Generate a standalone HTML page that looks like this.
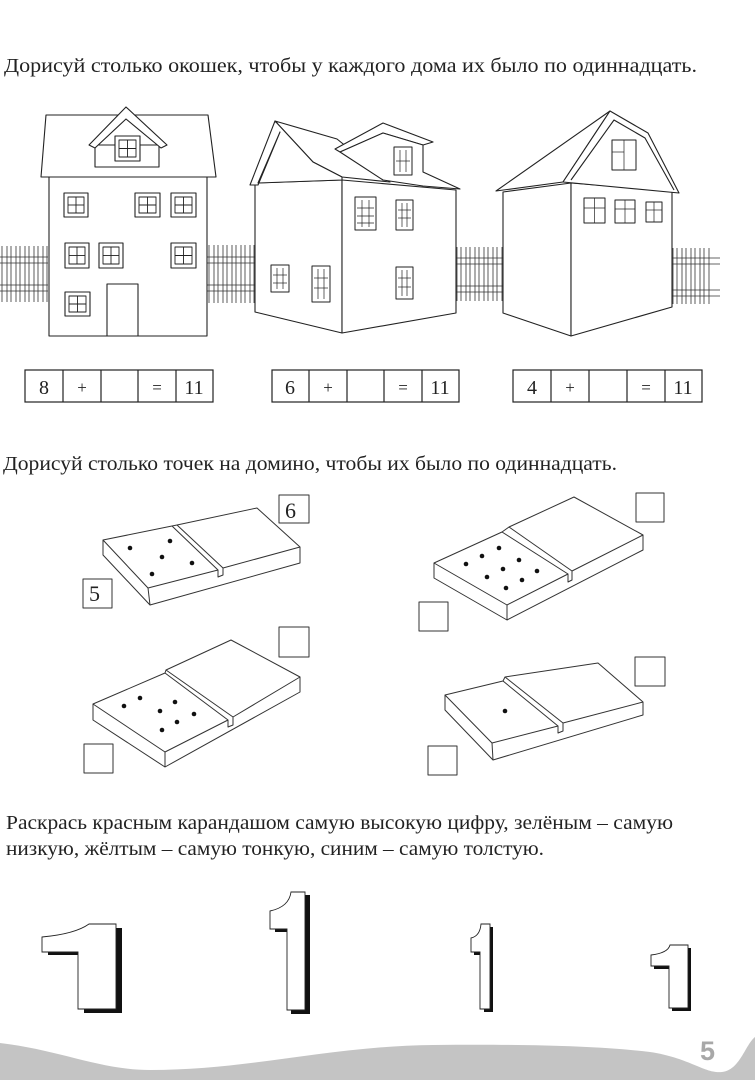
<!DOCTYPE html>
<html><head><meta charset="utf-8"><style>
html,body{margin:0;padding:0;background:#fff;}
svg{display:block;}
text{font-family:"Liberation Serif",serif;fill:#222;}
</style></head><body>
<svg width="755" height="1080" viewBox="0 0 755 1080" xmlns="http://www.w3.org/2000/svg">
<defs>
<pattern id="pk" x="0" y="0" width="9" height="200" patternUnits="userSpaceOnUse">
<path d="M2 200 V6 L4.5 1 L7 6 V200" fill="none" stroke="#333" stroke-width="0.8"/>
</pattern>
</defs>
<rect width="755" height="1080" fill="#fff"/>

<text x="4" y="72" font-size="20" textLength="693" lengthAdjust="spacingAndGlyphs">Дорисуй столько окошек, чтобы у каждого дома их было по одиннадцать.</text>

<g stroke="#333" stroke-width="0.8" fill="none">
<rect x="0" y="246" width="48" height="56" fill="url(#pk)" stroke="none"/>
<line x1="0" y1="257" x2="48" y2="257"/><line x1="0" y1="263" x2="48" y2="263"/>
<line x1="0" y1="285" x2="48" y2="285"/><line x1="0" y1="291" x2="48" y2="291"/>
<rect x="207" y="245" width="48" height="58" fill="url(#pk)" stroke="none"/>
<line x1="207" y1="257" x2="255" y2="257"/><line x1="207" y1="263" x2="255" y2="263"/>
<line x1="207" y1="285" x2="255" y2="285"/><line x1="207" y1="291" x2="255" y2="291"/>
<rect x="456" y="247" width="47" height="54" fill="url(#pk)" stroke="none"/>
<line x1="456" y1="258" x2="503" y2="258"/><line x1="456" y1="264" x2="503" y2="264"/>
<line x1="456" y1="286" x2="503" y2="286"/><line x1="456" y1="292" x2="503" y2="292"/>
<rect x="671" y="248" width="40" height="56" fill="url(#pk)" stroke="none"/>
<line x1="671" y1="258" x2="720" y2="258"/><line x1="671" y1="264" x2="720" y2="264"/>
<line x1="671" y1="290" x2="720" y2="290"/><line x1="671" y1="296" x2="720" y2="296"/>
</g>

<g stroke="#222" stroke-width="1.1" fill="#fff" stroke-linejoin="round">
<rect x="49" y="177" width="158" height="159"/>
<polygon points="46,115 208,115 216,177 41,177"/>
<rect x="95" y="145" width="64" height="22"/>
<polygon points="89,145 126,107 167,145 161,148 126,119 95,148"/>
<rect x="107" y="284" width="31" height="52"/>
<g>
<rect x="115" y="136" width="25" height="25"/><rect x="64" y="193" width="24" height="24"/><rect x="135" y="193" width="25" height="24"/><rect x="171" y="193" width="25" height="24"/>
<rect x="65" y="243" width="24" height="25"/><rect x="99" y="243" width="24" height="25"/><rect x="171" y="243" width="25" height="25"/><rect x="65" y="292" width="25" height="24"/>
</g>
<g stroke-width="0.9">
<rect x="119" y="140" width="17" height="17"/><line x1="127.5" y1="140" x2="127.5" y2="157"/><line x1="119" y1="148.5" x2="136" y2="148.5"/>
<rect x="68" y="197" width="16" height="16"/><line x1="76" y1="197" x2="76" y2="213"/><line x1="68" y1="205" x2="84" y2="205"/>
<rect x="139" y="197" width="17" height="16"/><line x1="147.5" y1="197" x2="147.5" y2="213"/><line x1="139" y1="205" x2="156" y2="205"/>
<rect x="175" y="197" width="17" height="16"/><line x1="183.5" y1="197" x2="183.5" y2="213"/><line x1="175" y1="205" x2="192" y2="205"/>
<rect x="69" y="247" width="16" height="17"/><line x1="77" y1="247" x2="77" y2="264"/><line x1="69" y1="255.5" x2="85" y2="255.5"/>
<rect x="103" y="247" width="16" height="17"/><line x1="111" y1="247" x2="111" y2="264"/><line x1="103" y1="255.5" x2="119" y2="255.5"/>
<rect x="175" y="247" width="17" height="17"/><line x1="183.5" y1="247" x2="183.5" y2="264"/><line x1="175" y1="255.5" x2="192" y2="255.5"/>
<rect x="69" y="296" width="17" height="16"/><line x1="77.5" y1="296" x2="77.5" y2="312"/><line x1="69" y1="304" x2="86" y2="304"/>
</g>

<polygon points="255,183 342,180 342,333 255,312"/>
<polygon points="342,180 456,190 456,313 342,333"/>
<polygon points="275,121 337,139 390,182 342,177 313,162"/>
<polygon points="250,185 275,121 313,162 342,177 342,180 258,183 280,132 258,185"/>
<polygon points="383,123 433,142 423,145 383,133 340,152 335,149"/>
<polygon points="383,133 423,145 423,172 460,189 423,186 383,180 340,152"/>
<g stroke-width="1">
<rect x="394" y="147" width="18" height="28"/><rect x="355" y="197" width="21" height="33"/><rect x="396" y="200" width="17" height="30"/>
<rect x="396" y="267" width="17" height="32"/><rect x="271" y="265" width="18" height="27"/><rect x="312" y="266" width="18" height="36"/>
</g>
<g stroke-width="0.7">
<line x1="400" y1="150" x2="400" y2="172"/><line x1="406" y1="150" x2="406" y2="172"/><line x1="396" y1="161" x2="410" y2="161"/>
<line x1="362" y1="200" x2="362" y2="227"/><line x1="369" y1="200" x2="369" y2="227"/><line x1="357" y1="208" x2="374" y2="208"/><line x1="357" y1="216" x2="374" y2="216"/><line x1="357" y1="223" x2="374" y2="223"/>
<line x1="402" y1="203" x2="402" y2="227"/><line x1="407" y1="203" x2="407" y2="227"/><line x1="398" y1="210" x2="411" y2="210"/><line x1="398" y1="218" x2="411" y2="218"/>
<line x1="402" y1="270" x2="402" y2="296"/><line x1="407" y1="270" x2="407" y2="296"/><line x1="398" y1="278" x2="411" y2="278"/><line x1="398" y1="287" x2="411" y2="287"/>
<line x1="277" y1="268" x2="277" y2="289"/><line x1="283" y1="268" x2="283" y2="289"/><line x1="273" y1="275" x2="287" y2="275"/><line x1="273" y1="283" x2="287" y2="283"/>
<line x1="318" y1="269" x2="318" y2="299"/><line x1="324" y1="269" x2="324" y2="299"/><line x1="314" y1="278" x2="328" y2="278"/><line x1="314" y1="288" x2="328" y2="288"/>
</g>

<polygon points="503,192 571,183 571,336 503,313"/>
<polygon points="571,183 672,191 672,307 571,336"/>
<polygon points="610,111 496,191 563,182"/>
<polygon points="610,111 648,133 679,193 563,182"/>
<polyline points="571,180 614,120 645,138 674,190" fill="none"/>
<g stroke-width="1">
<rect x="584" y="198" width="21" height="25"/><rect x="615" y="200" width="20" height="23"/><rect x="646" y="202" width="16" height="20"/><rect x="612" y="140" width="24" height="30"/>
</g>
<g stroke-width="0.7">
<line x1="594.5" y1="198" x2="594.5" y2="223"/><line x1="584" y1="208" x2="605" y2="208"/>
<line x1="625" y1="200" x2="625" y2="223"/><line x1="615" y1="209" x2="635" y2="209"/>
<line x1="654" y1="202" x2="654" y2="222"/><line x1="646" y1="210" x2="662" y2="210"/>
<line x1="624" y1="140" x2="624" y2="170"/><line x1="612" y1="152" x2="624" y2="152"/>
</g>
</g>

<g stroke="#222" stroke-width="1.2" fill="none">
<rect x="25" y="370" width="188" height="32"/>
<line x1="63" y1="370" x2="63" y2="402"/><line x1="101" y1="370" x2="101" y2="402"/><line x1="138" y1="370" x2="138" y2="402"/><line x1="176" y1="370" x2="176" y2="402"/>
<rect x="272" y="370" width="187" height="32"/>
<line x1="309" y1="370" x2="309" y2="402"/><line x1="347" y1="370" x2="347" y2="402"/><line x1="384" y1="370" x2="384" y2="402"/><line x1="422" y1="370" x2="422" y2="402"/>
<rect x="513" y="370" width="189" height="32"/>
<line x1="551" y1="370" x2="551" y2="402"/><line x1="589" y1="370" x2="589" y2="402"/><line x1="627" y1="370" x2="627" y2="402"/><line x1="665" y1="370" x2="665" y2="402"/>
</g>
<g font-size="20" text-anchor="middle">
<text x="44" y="394">8</text><text x="82" y="393" font-size="17">+</text><text x="157" y="393" font-size="17">=</text><text x="194" y="394">11</text>
<text x="290" y="394">6</text><text x="328" y="393" font-size="17">+</text><text x="403" y="393" font-size="17">=</text><text x="440" y="394">11</text>
<text x="532" y="394">4</text><text x="570" y="393" font-size="17">+</text><text x="646" y="393" font-size="17">=</text><text x="683" y="394">11</text>
</g>

<text x="3" y="470" font-size="20" textLength="614" lengthAdjust="spacingAndGlyphs">Дорисуй столько точек на домино, чтобы их было по одиннадцать.</text>

<g stroke="#333" stroke-width="1" fill="#fff" stroke-linejoin="round">
<polygon points="103,540 172,526 177,525 257,508 300,547 300,563 150,605 103,555"/>
<polyline points="103,540 148,588 218,570 218,577 223,575 223,568 300,547" fill="none"/>
<line x1="148" y1="588" x2="150" y2="605"/>
<polyline points="172,526 218,570" fill="none"/><polyline points="177,525 223,568" fill="none"/>
<rect x="279" y="495" width="30" height="28" fill="none"/><rect x="83" y="579" width="29" height="29" fill="none"/>

<polygon points="434,563 502,532 509,527 574,497 643,535 643,550 507,620 434,578"/>
<polyline points="434,563 507,605 568,574 568,582 572,580 572,571 643,535" fill="none"/>
<line x1="507" y1="605" x2="507" y2="620"/>
<line x1="502" y1="532" x2="568" y2="574"/><line x1="509" y1="527" x2="572" y2="571"/>
<rect x="636" y="493" width="28" height="29" fill="none"/><rect x="419" y="602" width="29" height="29" fill="none"/>

<polygon points="93,704 165,673 166,670 231,640 300,677 300,692 165,767 93,720"/>
<polyline points="93,704 165,752 228,720 228,727 233,725 233,717 300,677" fill="none"/>
<line x1="165" y1="752" x2="165" y2="767"/>
<line x1="165" y1="673" x2="228" y2="720"/><line x1="166" y1="670" x2="233" y2="717"/>
<rect x="279" y="627" width="30" height="30" fill="none"/><rect x="84" y="744" width="29" height="29" fill="none"/>

<polygon points="445,695 503,681 505,677 598,663 643,702 643,715 493,760 445,710"/>
<polyline points="445,695 492,743 558,726 558,733 563,731 563,723 643,702" fill="none"/>
<line x1="492" y1="743" x2="493" y2="760"/>
<line x1="503" y1="681" x2="558" y2="726"/><line x1="505" y1="677" x2="563" y2="723"/>
<rect x="635" y="657" width="30" height="29" fill="none"/><rect x="428" y="746" width="29" height="29" fill="none"/>
</g>
<g fill="#111">
<circle cx="130" cy="548" r="2.3"/><circle cx="170" cy="541" r="2.3"/><circle cx="162" cy="557" r="2.3"/><circle cx="192" cy="563" r="2.3"/><circle cx="152" cy="574" r="2.3"/>
<circle cx="466" cy="564" r="2.3"/><circle cx="482" cy="556" r="2.3"/><circle cx="499" cy="548" r="2.3"/><circle cx="519" cy="560" r="2.3"/><circle cx="503" cy="569" r="2.3"/><circle cx="487" cy="577" r="2.3"/><circle cx="537" cy="571" r="2.3"/><circle cx="522" cy="580" r="2.3"/><circle cx="506" cy="588" r="2.3"/>
<circle cx="124" cy="706" r="2.3"/><circle cx="140" cy="698" r="2.3"/><circle cx="160" cy="711" r="2.3"/><circle cx="175" cy="702" r="2.3"/><circle cx="194" cy="714" r="2.3"/><circle cx="177" cy="722" r="2.3"/><circle cx="162" cy="730" r="2.3"/>
<circle cx="505" cy="711" r="2.3"/>
</g>
<text x="89" y="601" font-size="22">5</text>
<text x="285" y="518" font-size="22">6</text>

<text x="6" y="829" font-size="20" textLength="667" lengthAdjust="spacingAndGlyphs">Раскрась красным карандашом самую высокую цифру, зелёным – самую</text>
<text x="6" y="855" font-size="20" textLength="538" lengthAdjust="spacingAndGlyphs">низкую, жёлтым – самую тонкую, синим – самую толстую.</text>

<g fill="#111">
<path d="M48,955 L84,955 L84,1013 L122,1013 L122,928 L116,928 L116,1009 L78,1009 L78,952 L48,952Z"/>
<path d="M275,932 L291,932 L291,1014 L310,1014 L310,895 L305,895 L305,1010 L287,1010 L287,929 L275,929Z"/>
<path d="M474,955 L484,955 L484,1012 L493,1012 L493,927 L490,927 L490,1009 L480,1009 L480,952 L474,952Z"/>
<path d="M654,969 L672,969 L672,1011 L691,1011 L691,948 L688,948 L688,1008 L669,1008 L669,966 L654,966Z"/>
</g>
<g fill="#fff" stroke="#222" stroke-width="0.9">
<path d="M42,937 Q75,934 89,924 L116,924 L116,1009 L78,1009 L78,952 L42,952Z"/>
<path d="M270,911 Q289,907 291,892 L305,892 L305,1010 L287,1010 L287,929 L270,929Z"/>
<path d="M471,938 Q480,936 481,924 L490,924 L490,1009 L480,1009 L480,952 L471,952Z"/>
<path d="M651,955 Q668,953 670,945 L688,945 L688,1008 L669,1008 L669,966 L651,966Z"/>
</g>

<path d="M0,1043 C60,1050 100,1070 150,1070 C250,1070 330,1046 433,1045 C530,1044 600,1046 650,1052 C690,1058 705,1074 722,1072 C740,1070 745,1045 755,1037 L755,1080 L0,1080Z" fill="#c4c4c4"/>
<text x="700" y="1060" font-size="27" font-weight="bold" style="font-family:'Liberation Sans',sans-serif;fill:#a8a8a8">5</text>
</svg>
</body></html>
